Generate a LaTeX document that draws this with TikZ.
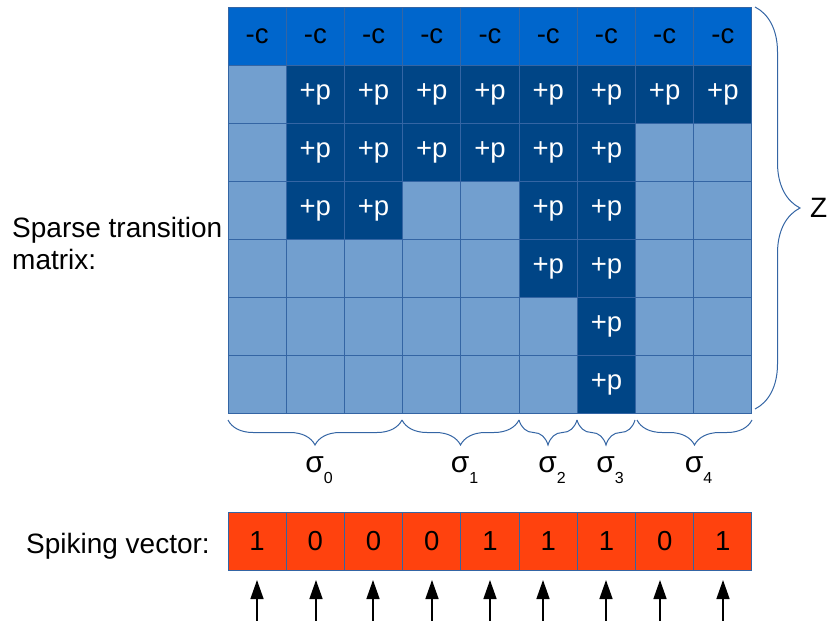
\documentclass[tikz,border=0pt]{standalone}
\usepackage{fontspec}
\setmainfont{Liberation Sans}
\usetikzlibrary{arrows.meta,decorations.pathreplacing}
\definecolor{topblue}{HTML}{0066CC}
\definecolor{darkblue}{HTML}{004586}
\definecolor{lightblue}{HTML}{729FCF}
\definecolor{gridblue}{HTML}{3465A4}
\definecolor{spikered}{HTML}{FF420E}
\newcommand\txtc{-c}
\newcommand\txtp{+p}
\newcommand\txtl{}
\newcommand\sig[1]{\fontsize{30}{30}\selectfont σ\raisebox{-11pt}{\fontsize{16}{16}\selectfont #1}}
\tikzset{
  cellbase/.style={draw=gridblue, line width=1pt, minimum width=58.22pt, minimum height=58pt, inner sep=0pt, font=\fontsize{27.5}{27.5}\selectfont},
  cellc/.style={cellbase, fill=topblue, text=black},
  cellp/.style={cellbase, fill=darkblue, text=white},
  celll/.style={cellbase, fill=lightblue},
  spikebox/.style={cellbase, fill=spikered, text=black},
  bracebelow/.style={draw=gridblue, line width=1pt, decorate, decoration={brace, mirror, amplitude=25pt}},
  braceright/.style={draw=gridblue, line width=1pt, decorate, decoration={brace, amplitude=45pt}},
  labeltext/.style={font=\fontsize{28}{32}\selectfont, inner sep=0pt},
  spikearrow/.style={line width=1.4pt, -{Triangle[width=13pt,length=19pt]}},
}
\begin{document}
\begin{tikzpicture}[x=1pt,y=-1pt]
\useasboundingbox (0,0) rectangle (830,621);
% matrix cells
\foreach \r/\row in {0/{c,c,c,c,c,c,c,c,c},
                     1/{l,p,p,p,p,p,p,p,p},
                     2/{l,p,p,p,p,p,p,l,l},
                     3/{l,p,p,l,l,p,p,l,l},
                     4/{l,l,l,l,l,p,p,l,l},
                     5/{l,l,l,l,l,l,p,l,l},
                     6/{l,l,l,l,l,l,p,l,l}}{
  \foreach \t [count=\c from 0] in \row {
    \node[cell\t] (m-\r-\c) at ({228+58.22*(\c+0.5)},{7+58*(\r+0.5)}) {\csname txt\t\endcsname};
  }
}
% spiking vector
\foreach \v [count=\c from 0] in {1,0,0,0,1,1,1,0,1} {
  \node[spikebox] (s-\c) at ({228+58.22*(\c+0.5)},541) {\v};
}
% labels
\node[labeltext, anchor=base west, align=left] (lblmat) at (12,269) {Sparse transition\\matrix:};
\node[labeltext, anchor=base east] (lblspike) at (210,553) {Spiking vector:};
% right brace
\coordinate (zt) at (755,7);
\coordinate (zb) at (755,409);
\draw[braceright] (zt) -- (zb);
\node[labeltext, anchor=west] (lblz) at (810,208) {Z};
% bottom braces
\foreach \n/\a/\b/\s in {0/228/402/0, 1/402/519/1, 2/519/577/2, 3/577/635/3, 4/637/752/4} {
  \coordinate (bl-\n) at (\a,420);
  \coordinate (br-\n) at (\b,420);
  \draw[bracebelow] (bl-\n) -- (br-\n);
  \node[inner sep=0pt, anchor=base] (sg-\n) at ({(\a+\b)/2+4},472) {\sig{\s}};
}
% arrows
\foreach \x [count=\c from 0] in {257,316,373,432,490,543,606,660,723} {
  \coordinate (af-\c) at (\x,621);
  \coordinate (at-\c) at (\x,580);
  \draw[spikearrow] (af-\c) -- (at-\c);
}
\end{tikzpicture}
\end{document}
